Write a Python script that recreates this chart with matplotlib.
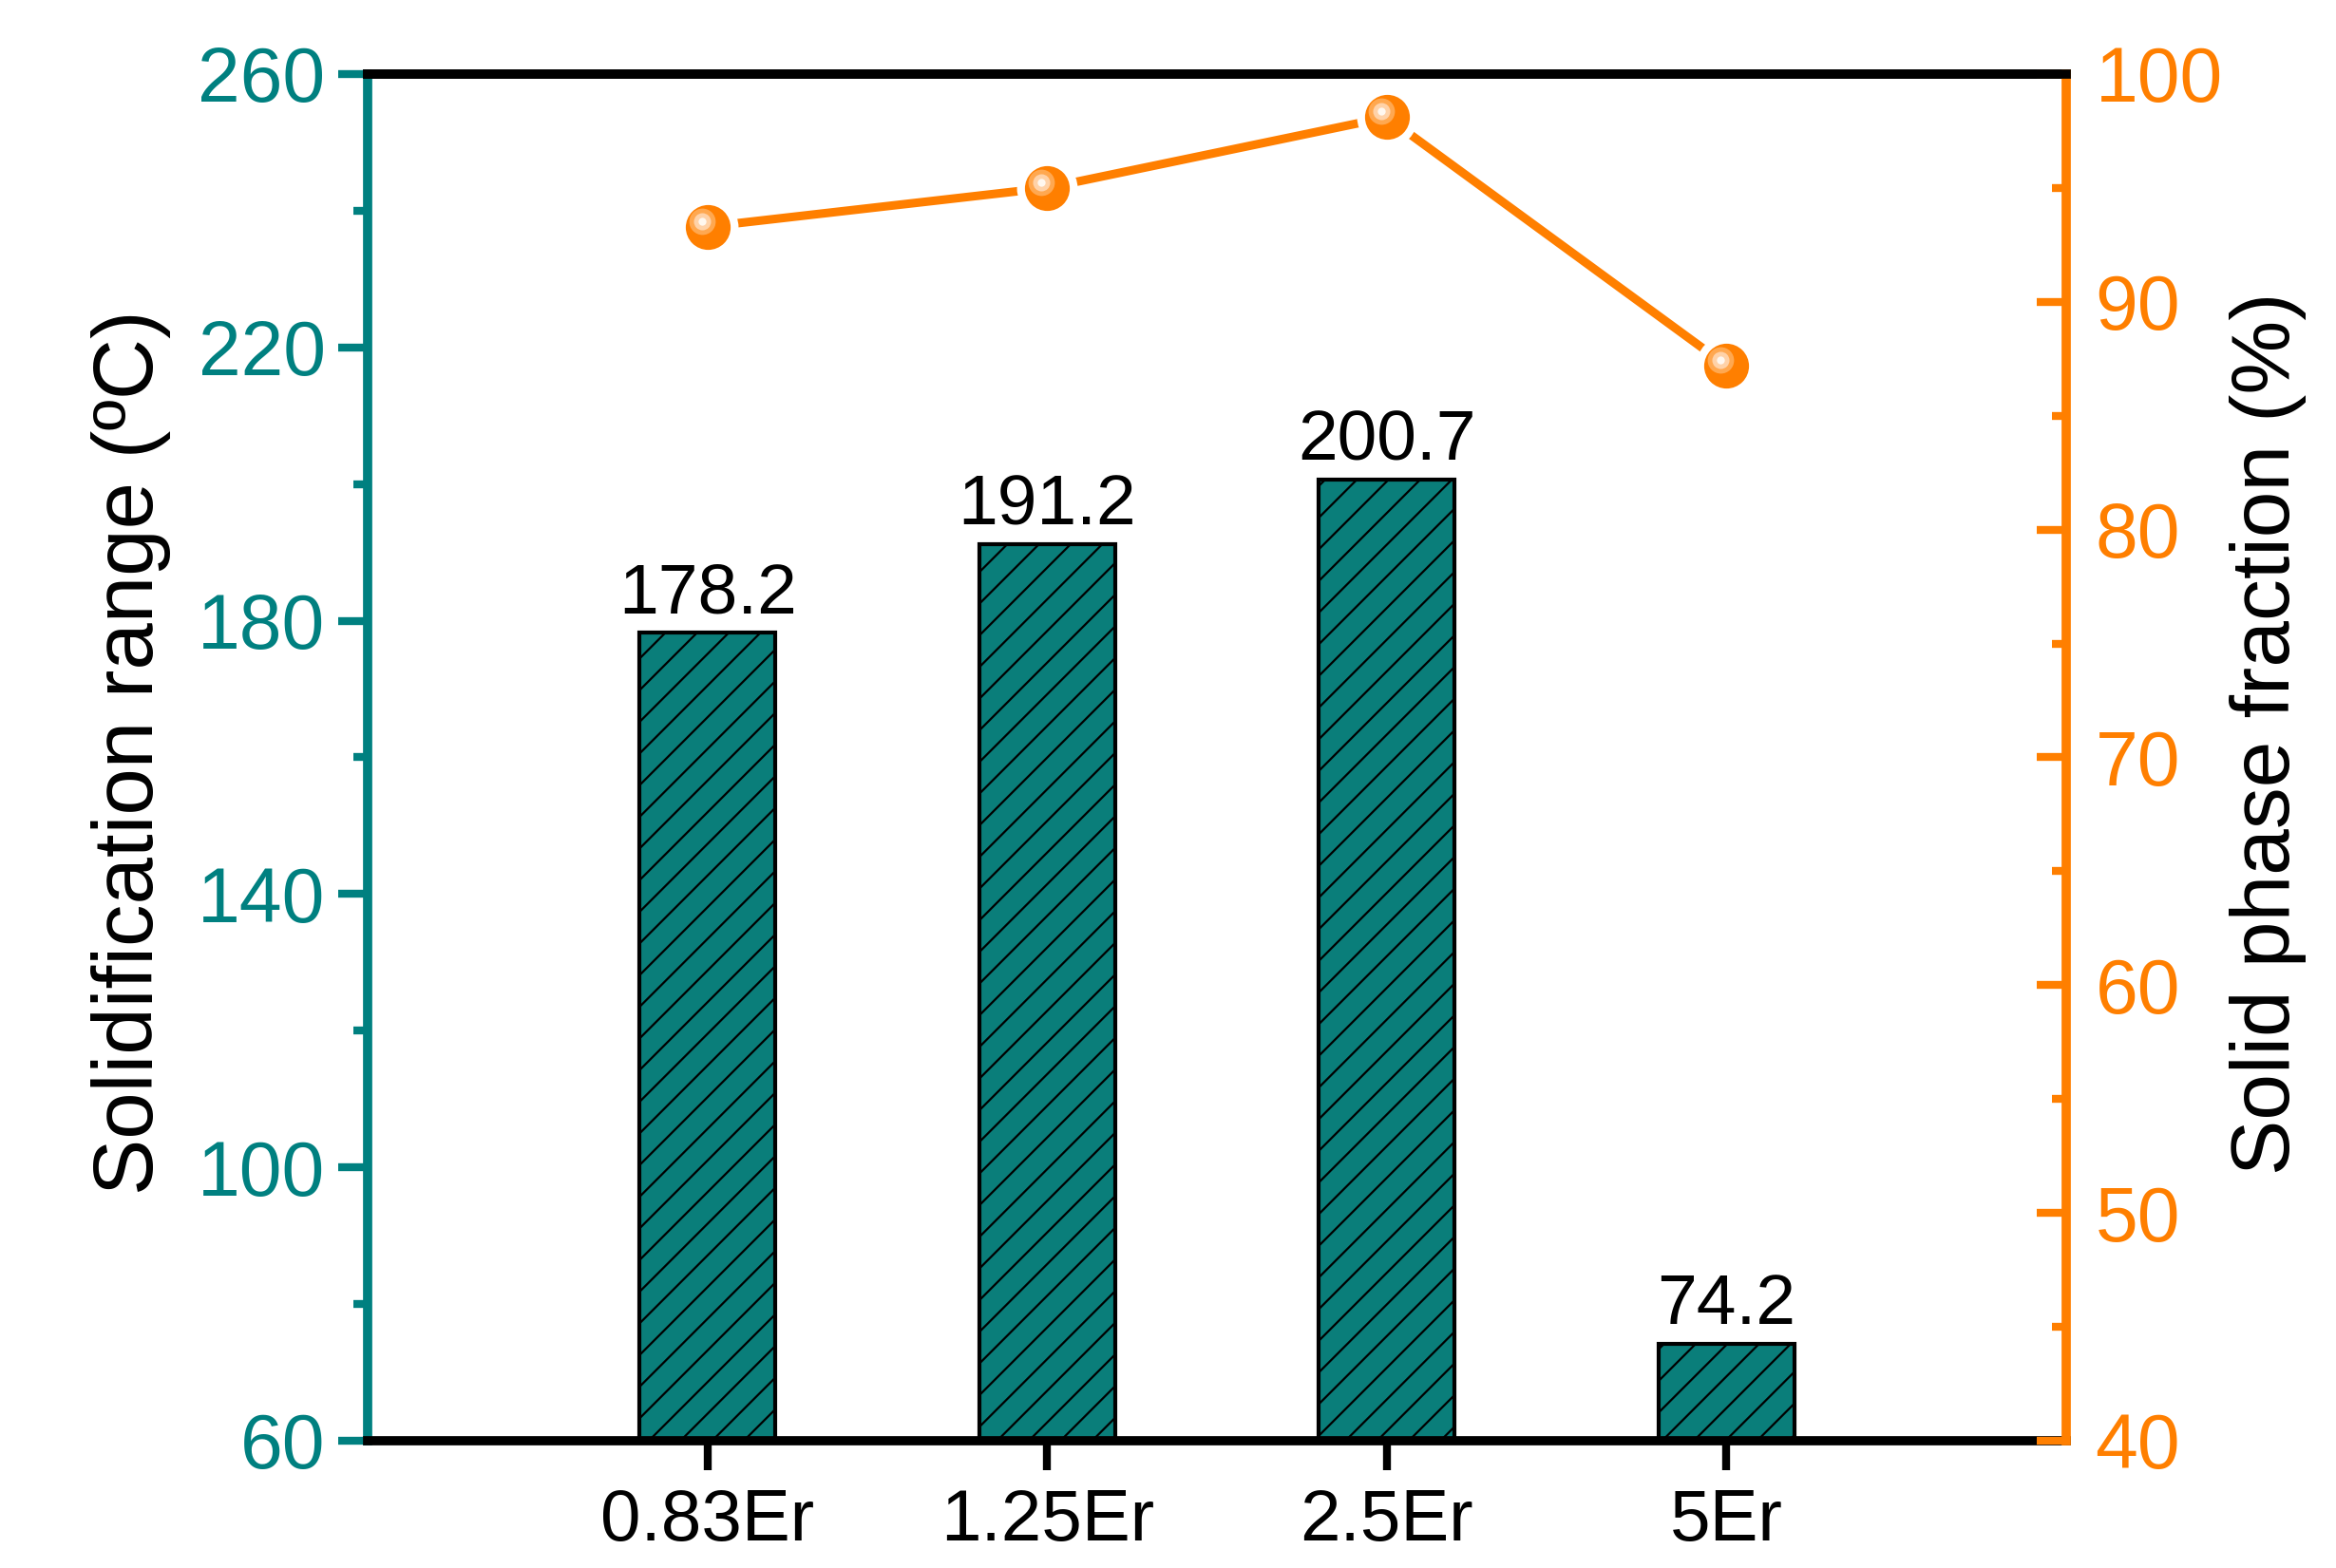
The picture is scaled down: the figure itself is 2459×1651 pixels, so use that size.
import matplotlib.pyplot as plt
from matplotlib.ticker import MultipleLocator
from matplotlib.transforms import ScaledTranslation
import numpy as np

plt.rcParams['font.family'] = ['Liberation Sans', 'DejaVu Sans']
plt.rcParams['hatch.linewidth'] = 1.6

categories = ['0.83Er', '1.25Er', '2.5Er', '5Er']
solidification_range = [178.2, 191.2, 200.7, 74.2]
solid_fraction = [93.3, 95.0, 98.1, 87.2]
left_ticks = [60, 100, 140, 180, 220, 260]

teal = '#008080'
bar_color = '#0a7e7a'
orange = '#ff7f00'

x = np.arange(1, len(categories) + 1)

fig = plt.figure(figsize=(24.59, 16.51), dpi=100)
ax = fig.add_axes([0.1574, 0.0812, 0.7271, 0.8716])

ax.bar(x, solidification_range, width=0.4, color=bar_color, edgecolor='black',
       linewidth=3, hatch='/', zorder=2)
for xi, v in zip(x, solidification_range):
    ax.annotate(f'{v}', (xi, v), xytext=(0, 4), textcoords='offset points',
                ha='center', va='bottom', fontsize=54)

ax.set_xlim(0, 5)
ax.set_ylim(60, 260)
ax.set_xticks(x)
ax.set_xticklabels(categories)
ax.set_yticks(left_ticks)
ax.yaxis.set_minor_locator(MultipleLocator(20))

ax.tick_params(axis='y', which='both', colors=teal, direction='out', width=6, labelsize=58, pad=10)
ax.tick_params(axis='y', which='major', length=22)
ax.tick_params(axis='y', which='minor', length=11)
ax.tick_params(axis='x', direction='out', length=22, width=6, labelsize=55, pad=14)

for s in ['top', 'bottom']:
    ax.spines[s].set_linewidth(7)
    ax.spines[s].set_color('black')
ax.spines['left'].set_linewidth(7)
ax.spines['left'].set_color(teal)
ax.spines['right'].set_visible(False)

ax2 = ax.twinx()
ax2.set_ylim(40, 100)
ax2.yaxis.set_major_locator(MultipleLocator(10))
ax2.yaxis.set_minor_locator(MultipleLocator(5))
ax2.tick_params(axis='y', which='both', colors=orange, direction='in', width=6, labelsize=58, pad=22)
ax2.tick_params(axis='y', which='major', length=22)
ax2.tick_params(axis='y', which='minor', length=11)
ax2.spines['right'].set_linewidth(7)
ax2.spines['right'].set_color(orange)
ax2.spines['top'].set_linewidth(7)
ax2.spines['left'].set_visible(False)
ax2.spines['bottom'].set_visible(False)

# line with a white gap round each sphere-like marker
ax2.plot(x, solid_fraction, color=orange, lw=6.5, solid_capstyle='round', zorder=3)
ax2.plot(x, solid_fraction, 'o', ms=46, color='white', mec='none', zorder=4)
ax2.plot(x, solid_fraction, 'o', ms=34, color=orange, mec='none', zorder=5)
shift = ScaledTranslation(-6 / 100, 6 / 100, fig.dpi_scale_trans)
ax2.plot(x, solid_fraction, 'o', ms=20, color='#ffa850', mec='none', zorder=6,
         transform=ax2.transData + shift)
ax2.plot(x, solid_fraction, 'o', ms=13, color='#ffd2a8', mec='none', zorder=7,
         transform=ax2.transData + shift)
ax2.plot(x, solid_fraction, 'o', ms=6, color='#fff8f0', mec='none', zorder=8,
         transform=ax2.transData + shift)

fig.text(0.056, 0.520, 'Solidification range (ºC)', rotation=90, ha='center', va='center', fontsize=64)
fig.text(0.971, 0.532, 'Solid phase fraction (%)', rotation=90, ha='center', va='center', fontsize=63)

fig.savefig('out.png', dpi=100)
